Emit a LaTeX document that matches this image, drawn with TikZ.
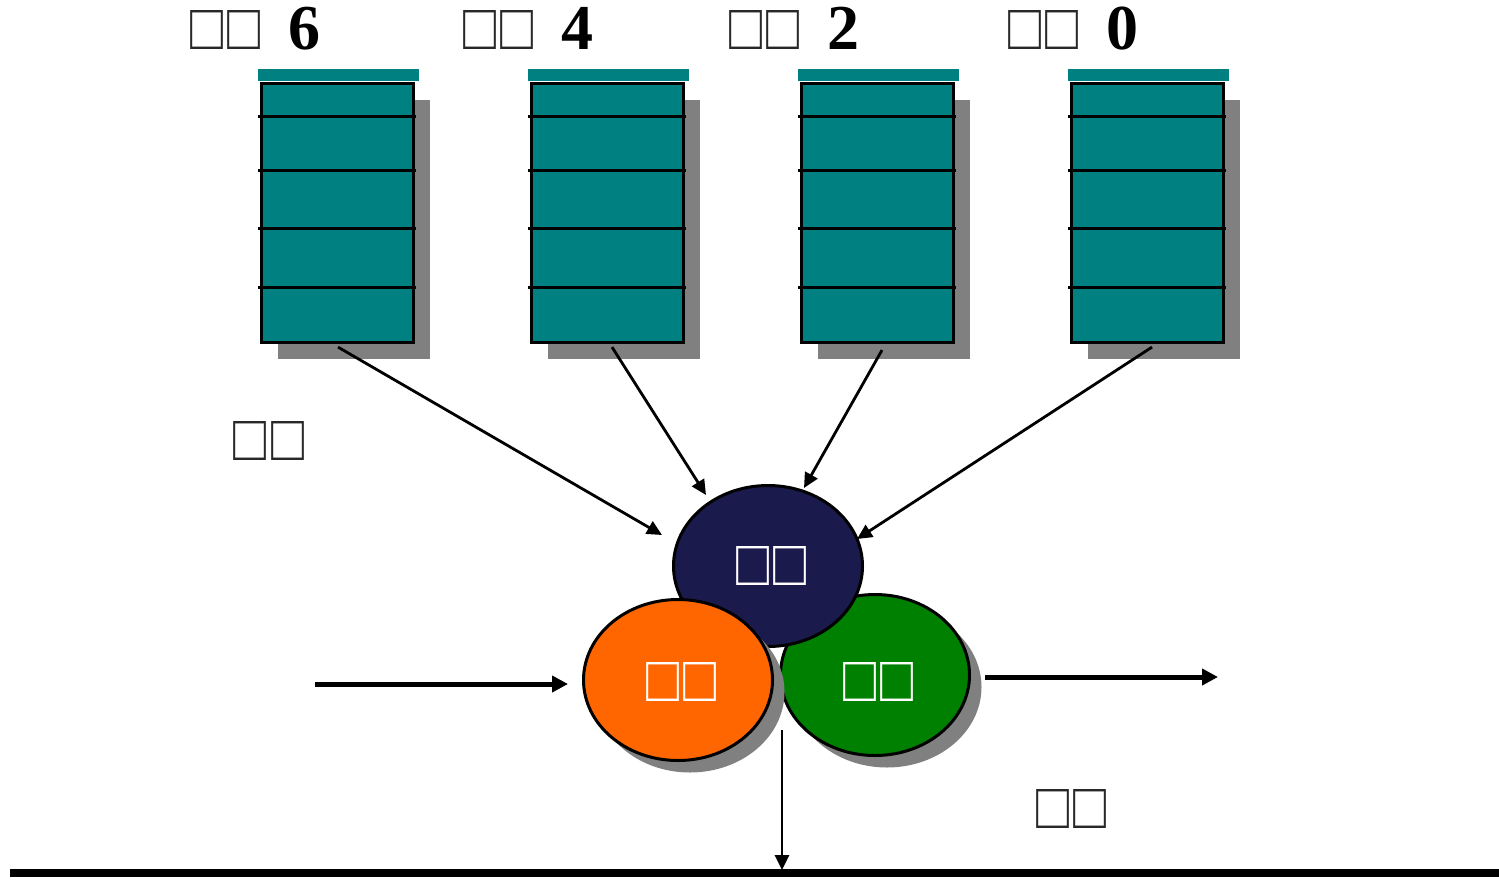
\documentclass[tikz,border=0pt]{standalone}
\usepackage{fontspec}
\usepackage{graphicx}
\setmainfont{Liberation Serif}
\newfontfamily\boxfont{Liberation Sans}
\usetikzlibrary{shapes.geometric,shadows,arrows.meta}

\definecolor{queueteal}{RGB}{0,128,128}
\definecolor{shadowgray}{RGB}{128,128,128}
\definecolor{navyball}{RGB}{27,26,76}
\definecolor{orangeball}{RGB}{255,102,0}
\definecolor{greenball}{RGB}{0,128,0}
\definecolor{tofugray}{RGB}{40,40,40}

% empty glyph boxes, as the labels are printed
\newcommand\tofu{\raisebox{\depth}{\resizebox*{33pt}{39pt}{\boxfont □}}}
\newcommand\tofupair{\tofu\hspace{4pt}\tofu}

\tikzset{
  queuebox/.style={draw=black, line width=3.2pt, fill=queueteal,
    minimum width=152pt, minimum height=259pt, inner sep=0pt,
    drop shadow={shadow xshift=16pt, shadow yshift=-16pt,
      fill=shadowgray, opacity=1}},
  queuecap/.style={fill=queueteal, draw=none},
  slotline/.style={line width=3pt, black},
  ball/.style={ellipse, draw=black, line width=3pt, inner sep=0pt,
    minimum width=189pt, minimum height=161pt, text=white},
  ballshadow/.style={drop shadow={shadow xshift=12pt, shadow yshift=-12pt,
    fill=shadowgray, opacity=1}},
  feed/.style={line width=2.8pt, -{Triangle[length=15pt,width=14pt]}},
  flow/.style={line width=5pt, -{Triangle[length=16pt,width=16pt]}},
  toplabel/.style={anchor=base west, inner sep=0pt, text=tofugray,
    font=\fontsize{64pt}{64pt}\selectfont\bfseries},
  sidelabel/.style={anchor=center, inner sep=0pt, text=tofugray},
  balllabel/.style={anchor=center, inner sep=0pt, text=white},
}

\begin{document}
\begin{tikzpicture}[x=1pt,y=-1pt]
\useasboundingbox (0,0) rectangle (1499,879);

% four queues with their caps and slot separators
\foreach \n/\x in {6/337.5,4/607.5,2/877.5,0/1147.5}{
  \node[queuebox] (q\n) at (\x,213) {};
  \fill[queuecap] (\x-80,69) rectangle (\x+81.5,81);
  \foreach \y in {116,170,228,287}
    \draw[slotline] (\x-79.5,\y) -- (\x+78.5,\y);
}

% queue titles
\node[toplabel] (t6) at (190,49) {\tofupair\hspace{28pt}\textcolor{black}{6}};
\node[toplabel] (t4) at (463,49) {\tofupair\hspace{28pt}\textcolor{black}{4}};
\node[toplabel] (t2) at (729,49) {\tofupair\hspace{28pt}\textcolor{black}{2}};
\node[toplabel] (t0) at (1008,49) {\tofupair\hspace{28pt}\textcolor{black}{0}};

% three overlapping stages
\node[ball, fill=greenball, ballshadow] (green) at (875,675) {};
\node[ball, fill=navyball] (navy) at (768,566) {};
\node[ball, fill=orangeball, ballshadow] (orange) at (678,680) {};
\node[balllabel] (ln) at (771,566) {\tofupair};
\node[balllabel] (lo) at (681,682) {\tofupair};
\node[balllabel] (lg) at (878,682) {\tofupair};

% side labels
\node[sidelabel] (ls) at (269,441) {\tofupair};
\node[sidelabel] (le) at (1071,809) {\tofupair};

% arrow tips and free ends
\coordinate (a6) at (662,535);
\coordinate (a4) at (706,495);
\coordinate (a2) at (804,488);
\coordinate (a0) at (857,539);
\coordinate (inS) at (315,684);
\coordinate (inE) at (568,684);
\coordinate (outS) at (985,677);
\coordinate (outE) at (1218,677);
\coordinate (downS) at (782,730);
\coordinate (downE) at (782,870);
\coordinate (baseL) at (10,873);
\coordinate (baseR) at (1499,873);

% queues feed the dispatcher
\draw[feed] ([xshift=0.5pt,yshift=-3pt]q6.south) -- (a6);
\draw[feed] ([xshift=4.5pt,yshift=-3pt]q4.south) -- (a4);
\draw[feed] ([xshift=4.5pt,yshift=-6pt]q2.south) -- (a2);
\draw[feed] ([xshift=4.5pt,yshift=-3pt]q0.south) -- (a0);

% incoming, outgoing and downward flows
\draw[flow] (inS) -- (inE);
\draw[flow] (outS) -- (outE);
\draw[feed] (downS) -- (downE);
\draw[line width=8pt] (baseL) -- (baseR);
\end{tikzpicture}
\end{document}
